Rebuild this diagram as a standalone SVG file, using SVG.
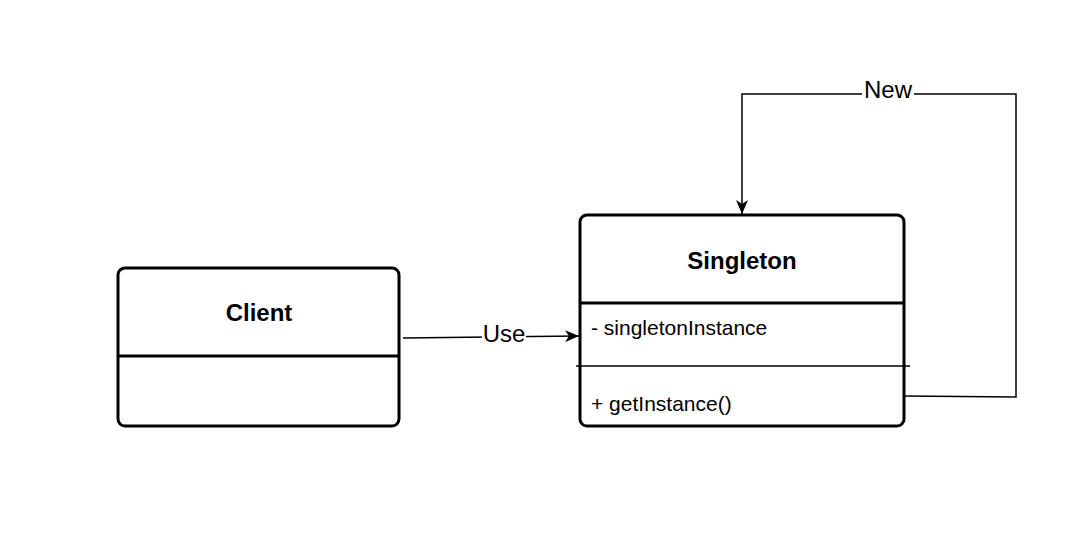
<svg xmlns="http://www.w3.org/2000/svg" width="1076" height="555" viewBox="0 0 1076 555">
<style>
.box{fill:#fff;stroke:#000;stroke-width:3}
.div{stroke:#000;stroke-width:3}
.title{font-family:"Liberation Sans",Arial,sans-serif;font-weight:bold;font-size:24px;text-anchor:middle;fill:#000}
.member{font-family:"Liberation Sans",Arial,sans-serif;font-size:21px;fill:#000}
.edge{fill:none;stroke:#000;stroke-width:1.5}
.lbl{font-family:"Liberation Sans",Arial,sans-serif;font-size:24px;text-anchor:middle;fill:#000}
</style>
<defs>
<marker id="arr" viewBox="0 0 14 12" refX="14" refY="6" markerWidth="14" markerHeight="12" markerUnits="userSpaceOnUse" orient="auto">
<path d="M0,0 L14,6 L0,12 L4,6 Z" fill="#000"/>
</marker>
</defs>
<rect width="1076" height="555" fill="#fff"/>
<g id="connectors">
<path class="edge" d="M403,338 L579,336" marker-end="url(#arr)"/>
<rect x="482" y="322" width="44" height="24" fill="#fff"/>
<text class="lbl" x="504" y="342">Use</text>
<path class="edge" d="M904,396 L1016,397 L1016,94 L742,94 L742,214" marker-end="url(#arr)"/>
<rect x="862" y="78" width="52" height="24" fill="#fff"/>
<text class="lbl" x="888" y="98">New</text>
</g>
<g id="client">
<rect class="box" x="118" y="268" width="281" height="158" rx="7"/>
<line class="div" x1="118" y1="356" x2="399" y2="356"/>
<text class="title" x="259" y="321">Client</text>
</g>
<g id="singleton">
<rect class="box" x="580" y="215" width="324" height="211" rx="7"/>
<line class="div" x1="580" y1="303" x2="904" y2="303"/>
<line x1="576" y1="366" x2="910" y2="366" stroke="#000" stroke-width="1.5"/>
<text class="title" x="742" y="269">Singleton</text>
<text class="member" x="591" y="335">- singletonInstance</text>
<text class="member" x="591" y="411">+ getInstance()</text>
</g>
</svg>
